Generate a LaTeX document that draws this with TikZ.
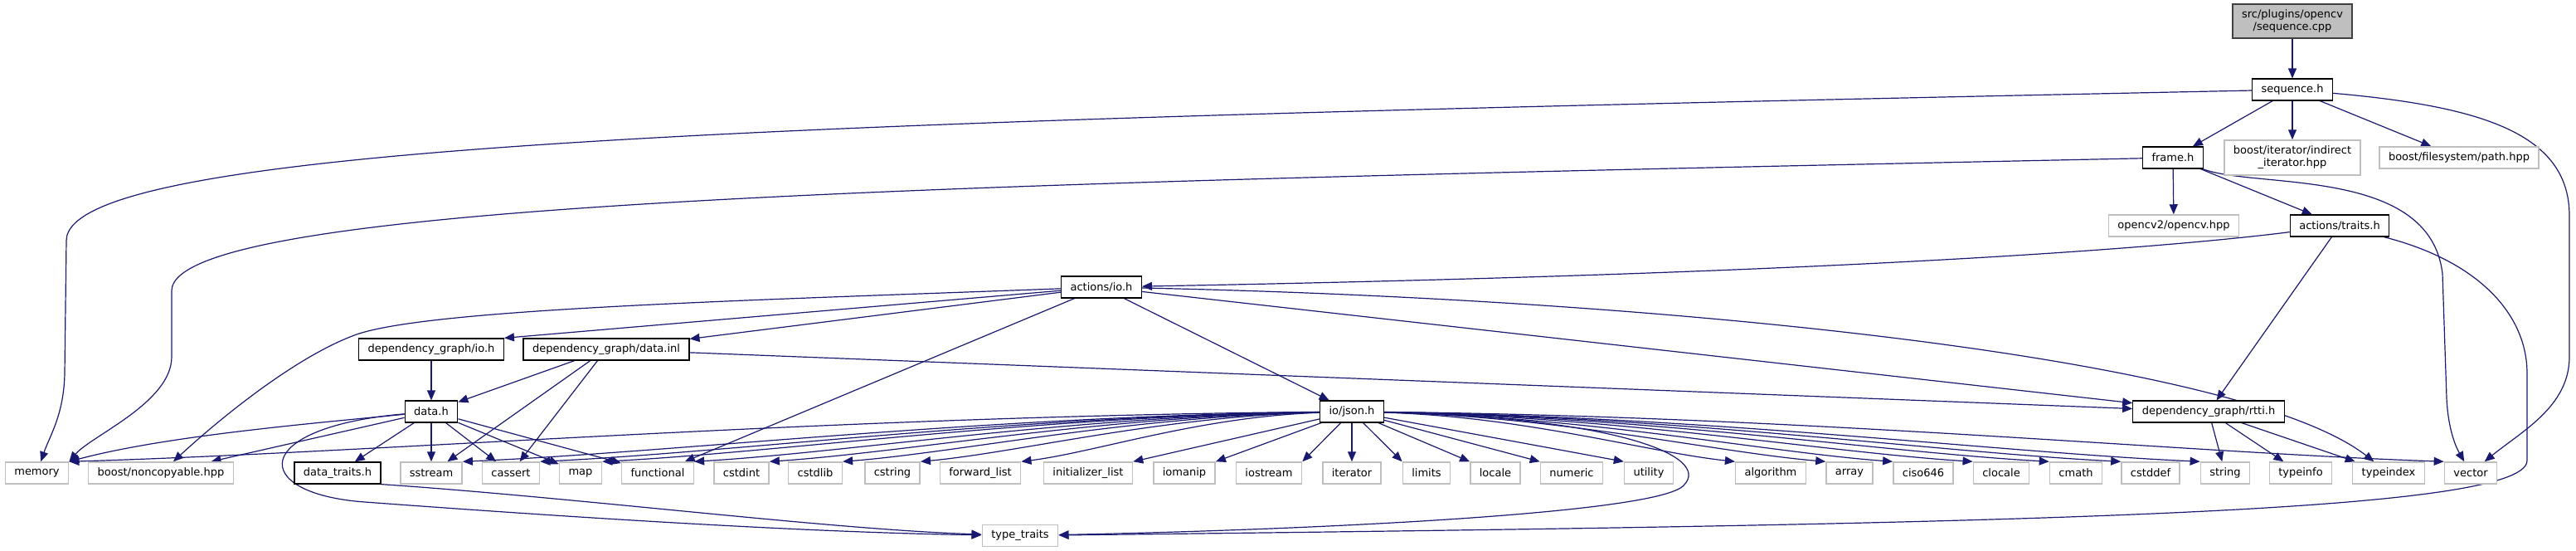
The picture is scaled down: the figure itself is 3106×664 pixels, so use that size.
\documentclass[tikz,border=0pt]{standalone}
\usepackage{fontspec}
\setmainfont{DejaVu Sans}
\usetikzlibrary{arrows.meta}
\usetikzlibrary{backgrounds}
\definecolor{edgeblue}{HTML}{191970}
\definecolor{extgray}{HTML}{BFBFBF}
\definecolor{rootline}{HTML}{404040}

\begin{document}
\begin{tikzpicture}[
    x=1pt, y=-1pt,
    >={Triangle[length=12pt, width=10pt]},
    every node/.style={font=\fontsize{13}{15}\selectfont},
    hdr/.style={draw=black, line width=1.2pt, fill=white, inner xsep=11pt, inner ysep=0pt, minimum height=26pt},
    ext/.style={hdr, draw=extgray, line width=1.5pt},
    root/.style={hdr, draw=rootline, fill=extgray, align=center, minimum height=41pt},
    dep/.style={->, draw=edgeblue, line width=1.2pt}
]
\useasboundingbox (0,0) rectangle (3106,664);

\node[root] (seqcpp) at (2764,25.5) {src/plugins/opencv\\/sequence.cpp};
\node[hdr] (seqh) at (2764,108) {sequence.h};
\node[hdr] (frame) at (2620,190) {frame.h};
\node[ext, align=center, minimum height=42pt] (indirect) at (2764,190) {boost/iterator/indirect\\\_iterator.hpp};
\node[ext] (fspath) at (2965,190) {boost/filesystem/path.hpp};
\node[ext] (opencv) at (2621,272) {opencv2/opencv.hpp};
\node[hdr] (traits) at (2821,272) {actions/traits.h};
\node[hdr] (actio) at (1328,346) {actions/io.h};
\node[hdr] (depio) at (520,421) {dependency\_graph/io.h};
\node[hdr] (datainl) at (731,421) {dependency\_graph/data.inl};
\node[hdr] (datah) at (520,496) {data.h};
\node[hdr] (json) at (1630,496) {io/json.h};
\node[hdr] (rtti) at (2663,496) {dependency\_graph/rtti.h};

\node[ext] (memory) at (44.5,570) {memory};
\node[ext] (noncopy) at (194,570) {boost/noncopyable.hpp};
\node[hdr] (dtraits) at (407,570) {data\_traits.h};
\node[ext] (sstream) at (520,570) {sstream};
\node[ext] (cassert) at (616,570) {cassert};
\node[ext] (map) at (700,570) {map};
\node[ext] (functional) at (793,570) {functional};
\node[ext] (cstdint) at (894,570) {cstdint};
\node[ext] (cstdlib) at (983,570) {cstdlib};
\node[ext] (cstring) at (1076,570) {cstring};
\node[ext] (fwdlist) at (1182,570) {forward\_list};
\node[ext] (initlist) at (1312,570) {initializer\_list};
\node[ext] (iomanip) at (1428,570) {iomanip};
\node[ext] (iostream) at (1530,570) {iostream};
\node[ext] (iterator) at (1630,570) {iterator};
\node[ext] (limits) at (1720,570) {limits};
\node[ext] (locale) at (1803,570) {locale};
\node[ext] (numeric) at (1895,570) {numeric};
\node[ext] (utility) at (1988,570) {utility};
\node[ext] (algorithm) at (2135,570) {algorithm};
\node[ext] (array) at (2230,570) {array};
\node[ext] (ciso) at (2319,570) {ciso646};
\node[ext] (clocale) at (2413,570) {clocale};
\node[ext] (cmath) at (2503,570) {cmath};
\node[ext] (cstddef) at (2593,570) {cstddef};
\node[ext] (string) at (2683,570) {string};
\node[ext] (typeinfo) at (2774,570) {typeinfo};
\node[ext] (typeindex) at (2880,570) {typeindex};
\node[ext] (vector) at (2979,570) {vector};
\node[ext] (tytr) at (1230,645.5) {type\_traits};

\begin{scope}[on background layer]
\draw[dep] (seqcpp) -- (seqh);
\draw[dep] (seqh) .. controls (1000,145) and (80,170) .. (80,290) -- (78,450) .. controls (77,500) and (60,525) .. (memory);
\draw[dep] (seqh) -- (frame);
\draw[dep] (seqh) -- (indirect);
\draw[dep] (seqh) -- (fspath);
\draw[dep] (seqh) .. controls (2990,128) and (3098,160) .. (3098,260) -- (3098,430) .. controls (3098,490) and (3040,520) .. (vector);
\draw[dep] (frame) .. controls (1200,220) and (210,240) .. (207,350) -- (207,430) .. controls (207,485) and (110,525) .. (memory.north east);
\draw[dep] (frame) -- (opencv);
\draw[dep] (frame) -- (traits);
\draw[dep] (frame) .. controls (2720,228) and (2930,200) .. (2945,330) -- (2950,480) .. controls (2952,520) and (2962,540) .. (vector);
\draw[dep] (traits) .. controls (2600,300) and (2200,330) .. (actio);
\draw[dep] (traits) -- (rtti);
\draw[dep] (traits) .. controls (2990,315) and (3047,380) .. (3047,450) -- (3047,555) .. controls (3047,620) and (2400,632) .. (tytr);
\draw[dep] (actio) .. controls (900,362) and (520,372) .. (430,403) .. controls (360,428) and (270,500) .. (noncopy);
\draw[dep] (actio) -- (depio.north east);
\draw[dep] (actio) -- (datainl);
\draw[dep] (actio) -- (functional);
\draw[dep] (actio) -- (json);
\draw[dep] (actio) -- (rtti);
\draw[dep] (actio) .. controls (2000,360) and (2700,430) .. (typeindex);
\draw[dep] (depio) -- (datah);
\draw[dep] (datainl) -- (datah);
\draw[dep] (datainl) -- (sstream);
\draw[dep] (datainl) -- (cassert);
\draw[dep] (datainl) -- (rtti);
\draw[dep] (datah) .. controls (380,510) and (200,525) .. (memory.north east);
\draw[dep] (datah) -- (noncopy);
\draw[dep] (datah) -- (dtraits);
\draw[dep] (datah) -- (sstream);
\draw[dep] (datah) -- (cassert);
\draw[dep] (datah) -- (map);
\draw[dep] (datah) -- (functional);
\draw[dep] (datah) .. controls (300,515) and (300,595) .. (440,605) .. controls (750,628) and (1000,642) .. (tytr);
\draw[dep] (dtraits.south east) .. controls (700,600) and (1000,638) .. (tytr);
\draw[dep] (json) .. controls (988,502) and (460,545) .. (memory.north east);
\draw[dep] (json) .. controls (1178,502) and (816,545) .. (sstream.north east);
\draw[dep] (json) .. controls (1215,502) and (886,545) .. (cassert.north east);
\draw[dep] (json) .. controls (1245,502) and (942,545) .. (map.north east);
\draw[dep] (json) .. controls (1289,502) and (1026,545) .. (functional.north east);
\draw[dep] (json) .. controls (1325,502) and (1093,545) .. (cstdint.north east);
\draw[dep] (json) .. controls (1360,502) and (1158,545) .. (cstdlib.north east);
\draw[dep] (json) .. controls (1398,502) and (1230,545) .. (cstring.north east);
\draw[dep] (json) .. controls (1447,502) and (1321,545) .. (fwdlist.north east);
\draw[dep] (json) -- (initlist.north east);
\draw[dep] (json) -- (iomanip.north east);
\draw[dep] (json) -- (iostream.north east);
\draw[dep] (json) -- (iterator);
\draw[dep] (json) -- (limits.north west);
\draw[dep] (json) -- (locale.north west);
\draw[dep] (json) -- (numeric.north west);
\draw[dep] (json) -- (utility.north west);
\draw[dep] (json) .. controls (1839,502) and (1987,545) .. (algorithm.north west);
\draw[dep] (json) .. controls (1882,502) and (2069,545) .. (array.north west);
\draw[dep] (json) .. controls (1915,502) and (2130,545) .. (ciso.north west);
\draw[dep] (json) .. controls (1953,502) and (2201,545) .. (clocale.north west);
\draw[dep] (json) .. controls (1990,502) and (2270,545) .. (cmath.north west);
\draw[dep] (json) .. controls (2025,502) and (2336,545) .. (cstddef.north west);
\draw[dep] (json) .. controls (2063,502) and (2407,545) .. (string.north west);
\draw[dep] (json) .. controls (2180,502) and (2627,545) .. (vector.north west);
\draw[dep] (json) .. controls (1950,503) and (2065,550) .. (2030,585) .. controls (2000,618) and (1600,638) .. (tytr);
\draw[dep] (rtti) -- (string);
\draw[dep] (rtti) -- (typeinfo);
\draw[dep] (rtti) -- (typeindex);
\end{scope}
\end{tikzpicture}
\end{document}
